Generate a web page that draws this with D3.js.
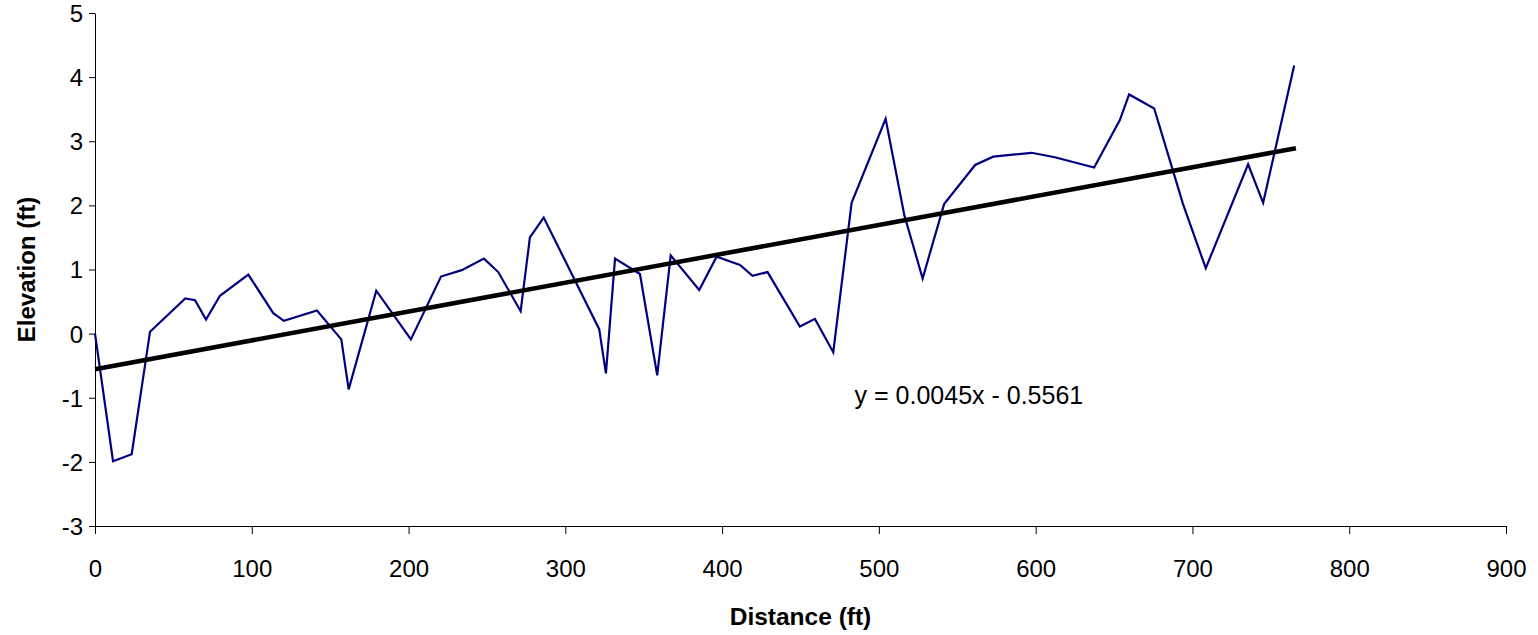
<!DOCTYPE html>
<html>
<head>
<meta charset="utf-8">
<script src="https://cdn.jsdelivr.net/npm/d3@7/dist/d3.min.js"></script>
<style>
  html, body { margin: 0; padding: 0; background: #fff; }
  svg { display: block; font-family: Arial, "Liberation Sans", sans-serif; }
</style>
</head>
<body>
<svg id="chart" width="1538" height="635"></svg>
<script>
const distance = [0, 11.5, 23.4, 35.1, 57.6, 63.8, 70.8, 79.7, 97.8, 113.7, 120.5, 141.6, 157.1, 161.8, 179.4, 201.5, 220.7, 233.9, 248.1, 257.2, 271.5, 277.4, 286.2, 321.6, 325.9, 331.7, 347.6, 358.6, 367.2, 385.4, 396.5, 411.4, 419.4, 429, 449.6, 459.2, 470.9, 482.6, 504.3, 516.2, 527.9, 541.6, 561.4, 572.9, 597.4, 612.2, 637.3, 653.7, 659.6, 675.6, 694, 708.5, 735.5, 745.1, 764.9];
const elevation = [0, -1.99, -1.88, 0.03, 0.55, 0.52, 0.22, 0.59, 0.92, 0.32, 0.2, 0.36, -0.09, -0.87, 0.67, -0.09, 0.89, 0.99, 1.17, 0.96, 0.35, 1.50, 1.81, 0.07, -0.62, 1.17, 0.93, -0.65, 1.22, 0.68, 1.20, 1.07, 0.90, 0.96, 0.11, 0.23, -0.29, 2.04, 3.35, 1.85, 0.86, 2.02, 2.63, 2.76, 2.82, 2.75, 2.59, 3.33, 3.73, 3.51, 2.02, 1.02, 2.64, 2.04, 4.18];
const trendSlope = 0.0045;
const trendIntercept = -0.5561;
const trendRange = [0, 766];
const xTicks = [0, 100, 200, 300, 400, 500, 600, 700, 800, 900];
const yTicks = [-3, -2, -1, 0, 1, 2, 3, 4, 5];
const equationLabel = "y = 0.0045x - 0.5561";
const equationPos = [484.5, -1.09];
const xTitle = "Distance (ft)";
const yTitle = "Elevation (ft)";

const svg = d3.select("#chart");
const x = d3.scaleLinear().domain([0, 900]).range([95, 1506]);
const y = d3.scaleLinear().domain([-3, 5]).range([526, 13]);
const fmt = d => String(d);

const xAxis = svg.append("g")
  .attr("transform", `translate(0,${y(-3)})`)
  .call(d3.axisBottom(x).tickValues(xTicks).tickSize(8).tickSizeOuter(0).tickFormat(fmt));
const yAxis = svg.append("g")
  .attr("transform", `translate(${x(0)},0)`)
  .call(d3.axisLeft(y).tickValues(yTicks).tickSize(6).tickSizeOuter(0).tickFormat(fmt));

[xAxis, yAxis].forEach(g => {
  g.select(".domain").attr("stroke", "#000").attr("stroke-width", 1);
  g.selectAll(".tick line").attr("stroke", "#000").attr("stroke-width", 1);
  g.selectAll(".tick text")
    .attr("fill", "#000")
    .style("font-family", "Arial, 'Liberation Sans', sans-serif")
    .style("font-size", "24px");
});
xAxis.selectAll(".tick text").attr("dy", null).attr("y", 51);
yAxis.selectAll(".tick text").attr("x", -12).attr("dy", "0.35em");

const line = d3.line().x(d => x(d[0])).y(d => y(d[1]));
const pts = distance.map((d, i) => [d, elevation[i]]);
svg.append("path")
  .datum(pts)
  .attr("fill", "none")
  .attr("stroke", "#000080")
  .attr("stroke-width", 2.2)
  .attr("stroke-linejoin", "miter")
  .attr("d", line);

const trendPts = trendRange.map(d => [d, trendSlope * d + trendIntercept]);
svg.append("path")
  .datum(trendPts)
  .attr("fill", "none")
  .attr("stroke", "#000")
  .attr("stroke-width", 4.5)
  .attr("d", line);

svg.append("text")
  .attr("x", x(equationPos[0]))
  .attr("y", y(equationPos[1]))
  .attr("font-size", 25)
  .attr("fill", "#000")
  .text(equationLabel);

svg.append("text")
  .attr("x", (x(0) + x(900)) / 2)
  .attr("y", 625)
  .attr("text-anchor", "middle")
  .attr("font-size", 24.5)
  .attr("font-weight", "bold")
  .attr("fill", "#000")
  .text(xTitle);

svg.append("text")
  .attr("transform", `translate(35,${(y(-3) + y(5)) / 2}) rotate(-90)`)
  .attr("text-anchor", "middle")
  .attr("font-size", 24)
  .attr("font-weight", "bold")
  .attr("fill", "#000")
  .text(yTitle);
</script>
</body>
</html>
